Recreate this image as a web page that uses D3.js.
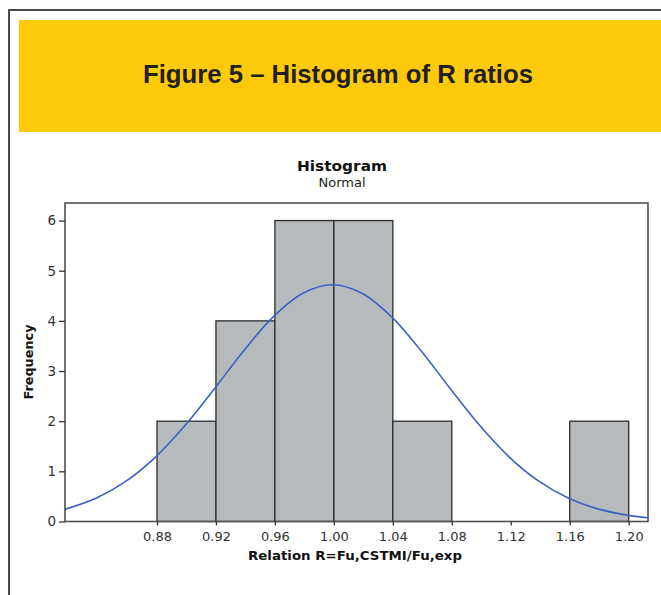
<!DOCTYPE html>
<html>
<head>
<meta charset="utf-8">
<script src="https://cdn.jsdelivr.net/npm/d3@7/dist/d3.min.js"></script>
<style>
  html, body { margin: 0; padding: 0; background: #fff; }
  svg { display: block; }
</style>
</head>
<body>
<svg id="chart" width="661" height="595"></svg>
<script>
// ---- Data ----
const binStarts = [0.88, 0.92, 0.96, 1.00, 1.04, 1.08, 1.12, 1.16];
const binWidth = 0.04;
const counts = [2, 4, 6, 6, 2, 0, 0, 2];
const xTicks = [0.88, 0.92, 0.96, 1.00, 1.04, 1.08, 1.12, 1.16, 1.20];
const yTicks = [0, 1, 2, 3, 4, 5, 6];
// fitted normal curve
const curveX = [0.8176, 0.839, 0.859, 0.879, 0.899, 0.919, 0.939, 0.959, 0.979, 0.999,
                1.019, 1.039, 1.059, 1.079, 1.099, 1.119, 1.139, 1.159, 1.179, 1.199, 1.2131];
const curveY = [0.242, 0.467, 0.804, 1.285, 1.913, 2.648, 3.411, 4.085, 4.552, 4.72,
                4.552, 4.085, 3.411, 2.648, 1.913, 1.285, 0.804, 0.467, 0.252, 0.127, 0.075];

const figureTitle = "Figure 5 \u2013 Histogram of R ratios";
const chartTitle = "Histogram";
const chartSubtitle = "Normal";
const xLabel = "Relation R=Fu,CSTMI/Fu,exp";
const yLabel = "Frequency";

// ---- Layout ----
const svg = d3.select("#chart");
const plot = { left: 65, right: 648, top: 203, bottom: 521.5 };

// outer frame
svg.append("path")
  .attr("d", "M9,595 L9,10 L661,10")
  .attr("fill", "none").attr("stroke", "#4a4a4a").attr("stroke-width", 2);

// yellow band
svg.append("rect")
  .attr("x", 19).attr("y", 20).attr("width", 661 - 19).attr("height", 112)
  .attr("fill", "#fdc90b");

svg.append("text")
  .attr("x", 338).attr("y", 83)
  .attr("text-anchor", "middle")
  .attr("font-family", "'Liberation Sans', Arial, sans-serif")
  .attr("font-weight", "bold").attr("font-size", 25)
  .attr("fill", "#231f20")
  .attr("textLength", 390).attr("lengthAdjust", "spacingAndGlyphs")
  .text(figureTitle);

const x = d3.scaleLinear().domain([0.8176, 1.2131]).range([plot.left, plot.right]);
const y = d3.scaleLinear().domain([0, 6.35]).range([plot.bottom, plot.top]);

const font = "'DejaVu Sans', Verdana, sans-serif";

// chart titles
svg.append("text")
  .attr("x", 342).attr("y", 171)
  .attr("text-anchor", "middle").attr("font-family", font)
  .attr("font-weight", "bold").attr("font-size", 14.5).attr("fill", "#111")
  .attr("textLength", 90).attr("lengthAdjust", "spacingAndGlyphs")
  .text(chartTitle);
svg.append("text")
  .attr("x", 342).attr("y", 187)
  .attr("text-anchor", "middle").attr("font-family", font)
  .attr("font-size", 12).attr("fill", "#222")
  .attr("textLength", 47).attr("lengthAdjust", "spacingAndGlyphs")
  .text(chartSubtitle);

// bars
svg.append("g").selectAll("rect")
  .data(binStarts.map((s, i) => ({ s, c: counts[i] })).filter(d => d.c > 0))
  .join("rect")
  .attr("x", d => x(d.s))
  .attr("y", d => y(d.c))
  .attr("width", d => x(d.s + binWidth) - x(d.s))
  .attr("height", d => y(0) - y(d.c))
  .attr("fill", "#b7babd")
  .attr("stroke", "#2a2d2d")
  .attr("stroke-width", 1.3);

// normal curve
const line = d3.line()
  .x((d, i) => x(curveX[i]))
  .y(d => y(d))
  .curve(d3.curveCatmullRom);
svg.append("path")
  .attr("d", line(curveY))
  .attr("fill", "none")
  .attr("stroke", "#3a62c4")
  .attr("stroke-width", 1.6);

// frame
svg.append("rect")
  .attr("x", plot.left).attr("y", plot.top)
  .attr("width", plot.right - plot.left).attr("height", plot.bottom - plot.top)
  .attr("fill", "none").attr("stroke", "#505050").attr("stroke-width", 1.6);

// axes
const xAxis = d3.axisBottom(x).tickValues(xTicks).tickFormat(d3.format(".2f"))
  .tickSize(4).tickSizeOuter(0).tickPadding(6);
const gx = svg.append("g").attr("transform", `translate(0,${plot.bottom})`).call(xAxis);
gx.select(".domain").remove();
gx.selectAll("line").attr("stroke", "#333").attr("stroke-width", 1.3);
gx.selectAll("text").attr("font-family", font).attr("font-size", 13).attr("fill", "#333")
  .attr("transform", "scale(1,1)");

const yAxis = d3.axisLeft(y).tickValues(yTicks).tickFormat(d3.format("d"))
  .tickSize(6).tickSizeOuter(0).tickPadding(3);
const gy = svg.append("g").attr("transform", `translate(${plot.left},0)`).call(yAxis);
gy.select(".domain").remove();
gy.selectAll("line").attr("stroke", "#333").attr("stroke-width", 1.3);
gy.selectAll("text").attr("font-family", font).attr("font-size", 13.5).attr("fill", "#333");

// axis labels
svg.append("text")
  .attr("x", 355).attr("y", 560)
  .attr("text-anchor", "middle").attr("font-family", font)
  .attr("font-weight", "bold").attr("font-size", 13).attr("fill", "#111")
  .attr("textLength", 214).attr("lengthAdjust", "spacingAndGlyphs")
  .text(xLabel);

svg.append("text")
  .attr("transform", "translate(33,362) rotate(-90)")
  .attr("text-anchor", "middle").attr("font-family", font)
  .attr("font-weight", "bold").attr("font-size", 13).attr("fill", "#111")
  .attr("textLength", 75).attr("lengthAdjust", "spacingAndGlyphs")
  .text(yLabel);
</script>
</body>
</html>
